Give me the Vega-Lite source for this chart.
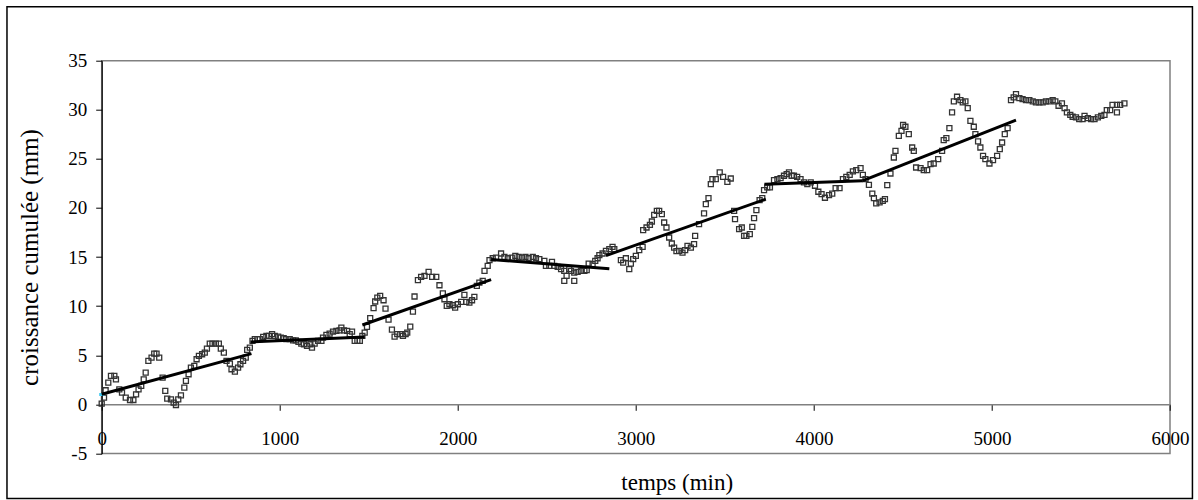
{
  "$schema": "https://vega.github.io/schema/vega-lite/v6.json",
  "width": 1068.3,
  "height": 392.7,
  "autosize": "none",
  "padding": {"left": 101.7, "top": 60.7, "right": 28, "bottom": 46.6},
  "background": "white",
  "config": {
    "font": "Liberation Serif",
    "view": {"stroke": "#808080", "strokeWidth": 1.5}
  },
  "datasets": {
    "pts": [
      {"t":0,"v":0.07},{"t":13,"v":0.68},{"t":22,"v":1.43},{"t":37,"v":2.2},{"t":52,"v":2.9},{"t":71,"v":2.9},{"t":80,"v":2.55},{"t":99,"v":1.53},{"t":114,"v":1.19},{"t":135,"v":0.68},{"t":159,"v":0.44},{"t":178,"v":0.44},{"t":193,"v":1.02},{"t":207,"v":1.53},{"t":222,"v":1.87},{"t":236,"v":2.55},{"t":247,"v":3.23},{"t":262,"v":4.42},{"t":280,"v":4.76},{"t":295,"v":5.16},{"t":308,"v":5.16},{"t":323,"v":4.76},{"t":342,"v":2.72},{"t":357,"v":1.36},{"t":368,"v":0.58},{"t":389,"v":0.51},{"t":404,"v":0.17},{"t":417,"v":-0.07},{"t":430,"v":0.51},{"t":445,"v":0.92},{"t":464,"v":1.7},{"t":473,"v":2.38},{"t":488,"v":3.06},{"t":501,"v":3.74},{"t":520,"v":3.91},{"t":533,"v":4.59},{"t":546,"v":4.93},{"t":564,"v":5.1},{"t":579,"v":5.27},{"t":591,"v":5.67},{"t":607,"v":6.18},{"t":622,"v":6.18},{"t":641,"v":6.18},{"t":658,"v":6.18},{"t":669,"v":5.67},{"t":686,"v":5.27},{"t":701,"v":4.42},{"t":720,"v":4.15},{"t":729,"v":3.57},{"t":748,"v":3.33},{"t":766,"v":3.74},{"t":779,"v":4.08},{"t":794,"v":4.42},{"t":809,"v":4.76},{"t":817,"v":5.54},{"t":832,"v":5.78},{"t":847,"v":6.46},{"t":860,"v":6.63},{"t":875,"v":6.63},{"t":888,"v":6.63},{"t":907,"v":6.86},{"t":925,"v":6.97},{"t":940,"v":6.97},{"t":957,"v":7.14},{"t":972,"v":6.97},{"t":991,"v":6.9},{"t":1006,"v":6.8},{"t":1022,"v":6.73},{"t":1037,"v":6.63},{"t":1056,"v":6.63},{"t":1075,"v":6.52},{"t":1090,"v":6.52},{"t":1105,"v":6.35},{"t":1121,"v":6.18},{"t":1136,"v":6.12},{"t":1153,"v":5.95},{"t":1172,"v":6.12},{"t":1181,"v":5.78},{"t":1196,"v":6.18},{"t":1215,"v":6.46},{"t":1234,"v":6.46},{"t":1243,"v":6.8},{"t":1262,"v":7.07},{"t":1280,"v":7.2},{"t":1299,"v":7.4},{"t":1318,"v":7.48},{"t":1336,"v":7.54},{"t":1346,"v":7.82},{"t":1361,"v":7.54},{"t":1378,"v":7.48},{"t":1393,"v":7.14},{"t":1406,"v":7.4},{"t":1421,"v":6.46},{"t":1436,"v":6.46},{"t":1450,"v":6.46},{"t":1464,"v":6.97},{"t":1477,"v":7.31},{"t":1490,"v":7.88},{"t":1508,"v":8.77},{"t":1527,"v":9.79},{"t":1536,"v":10.47},{"t":1548,"v":10.87},{"t":1564,"v":11.04},{"t":1583,"v":10.6},{"t":1594,"v":9.75},{"t":1611,"v":8.63},{"t":1630,"v":7.61},{"t":1645,"v":6.9},{"t":1660,"v":7.14},{"t":1677,"v":7.14},{"t":1692,"v":6.97},{"t":1707,"v":7.14},{"t":1716,"v":7.31},{"t":1733,"v":7.92},{"t":1748,"v":9.45},{"t":1757,"v":10.98},{"t":1776,"v":12.64},{"t":1794,"v":12.98},{"t":1813,"v":13.08},{"t":1836,"v":13.49},{"t":1856,"v":12.98},{"t":1879,"v":12.98},{"t":1897,"v":12.13},{"t":1916,"v":11.31},{"t":1925,"v":10.7},{"t":1938,"v":10.02},{"t":1953,"v":10.19},{"t":1972,"v":10.09},{"t":1985,"v":9.85},{"t":2000,"v":10.19},{"t":2019,"v":10.43},{"t":2037,"v":11.14},{"t":2047,"v":10.43},{"t":2065,"v":10.36},{"t":2080,"v":10.6},{"t":2093,"v":10.94},{"t":2107,"v":12.06},{"t":2121,"v":12.4},{"t":2140,"v":12.57},{"t":2150,"v":13.59},{"t":2168,"v":14.1},{"t":2178,"v":14.68},{"t":2196,"v":14.88},{"t":2215,"v":14.95},{"t":2243,"v":15.36},{"t":2262,"v":15.02},{"t":2281,"v":14.88},{"t":2303,"v":14.95},{"t":2323,"v":15.12},{"t":2342,"v":15.02},{"t":2361,"v":14.95},{"t":2380,"v":15.02},{"t":2398,"v":14.88},{"t":2421,"v":15.02},{"t":2439,"v":14.88},{"t":2458,"v":14.78},{"t":2486,"v":14.61},{"t":2495,"v":14.1},{"t":2514,"v":14.1},{"t":2529,"v":14.51},{"t":2542,"v":14.1},{"t":2561,"v":14.0},{"t":2580,"v":13.76},{"t":2598,"v":13.59},{"t":2598,"v":12.57},{"t":2611,"v":13.08},{"t":2626,"v":13.76},{"t":2636,"v":13.59},{"t":2654,"v":12.57},{"t":2654,"v":13.42},{"t":2673,"v":13.49},{"t":2692,"v":13.59},{"t":2711,"v":13.59},{"t":2724,"v":13.66},{"t":2735,"v":14.34},{"t":2757,"v":14.27},{"t":2772,"v":14.61},{"t":2785,"v":14.88},{"t":2795,"v":15.19},{"t":2813,"v":15.36},{"t":2832,"v":15.63},{"t":2851,"v":15.8},{"t":2869,"v":16.04},{"t":2879,"v":15.8},{"t":2916,"v":14.68},{"t":2929,"v":14.44},{"t":2944,"v":14.88},{"t":2963,"v":13.76},{"t":2972,"v":14.34},{"t":2985,"v":14.78},{"t":3000,"v":15.12},{"t":3019,"v":15.7},{"t":3038,"v":16.04},{"t":3041,"v":17.74},{"t":3060,"v":18.01},{"t":3079,"v":18.28},{"t":3090,"v":18.62},{"t":3103,"v":19.3},{"t":3118,"v":19.71},{"t":3131,"v":19.71},{"t":3146,"v":19.37},{"t":3159,"v":18.52},{"t":3172,"v":18.01},{"t":3187,"v":16.99},{"t":3202,"v":16.38},{"t":3215,"v":15.97},{"t":3228,"v":15.6},{"t":3243,"v":15.63},{"t":3262,"v":15.46},{"t":3277,"v":15.7},{"t":3290,"v":16.14},{"t":3309,"v":15.97},{"t":3327,"v":16.31},{"t":3333,"v":17.16},{"t":3355,"v":18.35},{"t":3383,"v":19.44},{"t":3393,"v":20.39},{"t":3408,"v":21.0},{"t":3421,"v":22.43},{"t":3430,"v":22.94},{"t":3449,"v":22.94},{"t":3471,"v":23.62},{"t":3490,"v":23.17},{"t":3514,"v":22.66},{"t":3533,"v":23.0},{"t":3552,"v":19.71},{"t":3557,"v":18.86},{"t":3580,"v":17.84},{"t":3595,"v":18.01},{"t":3608,"v":17.16},{"t":3621,"v":17.16},{"t":3640,"v":17.33},{"t":3654,"v":18.08},{"t":3664,"v":18.96},{"t":3677,"v":19.78},{"t":3695,"v":20.8},{"t":3710,"v":21.0},{"t":3720,"v":21.81},{"t":3738,"v":22.09},{"t":3753,"v":22.09},{"t":3776,"v":22.83},{"t":3795,"v":22.94},{"t":3813,"v":23.04},{"t":3832,"v":23.28},{"t":3847,"v":23.45},{"t":3860,"v":23.62},{"t":3875,"v":23.28},{"t":3888,"v":23.28},{"t":3906,"v":23.17},{"t":3925,"v":22.94},{"t":3944,"v":22.6},{"t":3963,"v":22.43},{"t":3982,"v":22.6},{"t":4006,"v":22.26},{"t":4025,"v":21.65},{"t":4043,"v":21.41},{"t":4062,"v":21.04},{"t":4085,"v":21.3},{"t":4103,"v":21.47},{"t":4122,"v":22.02},{"t":4144,"v":22.02},{"t":4163,"v":22.94},{"t":4182,"v":23.17},{"t":4201,"v":23.38},{"t":4219,"v":23.72},{"t":4238,"v":23.85},{"t":4262,"v":24.06},{"t":4275,"v":23.38},{"t":4290,"v":22.94},{"t":4309,"v":22.36},{"t":4328,"v":21.47},{"t":4337,"v":21.0},{"t":4350,"v":20.46},{"t":4369,"v":20.56},{"t":4387,"v":20.73},{"t":4399,"v":20.9},{"t":4412,"v":22.32},{"t":4430,"v":23.51},{"t":4449,"v":25.14},{"t":4458,"v":25.82},{"t":4477,"v":27.35},{"t":4492,"v":27.86},{"t":4501,"v":28.47},{"t":4514,"v":28.27},{"t":4533,"v":27.52},{"t":4552,"v":26.16},{"t":4561,"v":25.82},{"t":4574,"v":24.12},{"t":4599,"v":24.06},{"t":4617,"v":23.85},{"t":4636,"v":23.85},{"t":4655,"v":24.46},{"t":4673,"v":24.53},{"t":4698,"v":24.97},{"t":4720,"v":25.82},{"t":4729,"v":26.91},{"t":4744,"v":27.11},{"t":4761,"v":28.13},{"t":4776,"v":29.73},{"t":4786,"v":30.85},{"t":4804,"v":31.33},{"t":4823,"v":30.99},{"t":4836,"v":30.75},{"t":4851,"v":30.85},{"t":4864,"v":30.17},{"t":4879,"v":28.88},{"t":4898,"v":28.27},{"t":4907,"v":27.52},{"t":4922,"v":26.78},{"t":4935,"v":26.16},{"t":4950,"v":25.31},{"t":4963,"v":24.97},{"t":4986,"v":24.53},{"t":5006,"v":24.87},{"t":5029,"v":25.31},{"t":5044,"v":25.99},{"t":5057,"v":26.67},{"t":5072,"v":27.52},{"t":5088,"v":28.13},{"t":5107,"v":30.99},{"t":5122,"v":31.26},{"t":5135,"v":31.6},{"t":5154,"v":31.19},{"t":5172,"v":31.09},{"t":5191,"v":30.99},{"t":5210,"v":30.99},{"t":5229,"v":30.85},{"t":5247,"v":30.75},{"t":5266,"v":30.75},{"t":5285,"v":30.75},{"t":5303,"v":30.85},{"t":5322,"v":30.85},{"t":5341,"v":30.99},{"t":5356,"v":30.85},{"t":5374,"v":30.41},{"t":5393,"v":30.65},{"t":5408,"v":30.17},{"t":5421,"v":29.73},{"t":5440,"v":29.49},{"t":5453,"v":29.29},{"t":5472,"v":29.22},{"t":5490,"v":29.05},{"t":5509,"v":29.05},{"t":5520,"v":29.39},{"t":5539,"v":29.15},{"t":5557,"v":29.05},{"t":5576,"v":29.05},{"t":5595,"v":29.22},{"t":5614,"v":29.39},{"t":5632,"v":29.49},{"t":5645,"v":29.97},{"t":5664,"v":29.97},{"t":5677,"v":30.51},{"t":5702,"v":30.51},{"t":5702,"v":29.73},{"t":5720,"v":30.51},{"t":5744,"v":30.65}
    ],
    "fit": [
      {"seg":1,"t":0,"v":1.02},{"seg":1,"t":841,"v":5.16},
      {"seg":2,"t":836,"v":6.35},{"seg":2,"t":1477,"v":6.85},
      {"seg":3,"t":1464,"v":8.08},{"seg":3,"t":2187,"v":12.7},
      {"seg":4,"t":2187,"v":14.76},{"seg":4,"t":2851,"v":13.8},
      {"seg":5,"t":2832,"v":15.15},{"seg":5,"t":3730,"v":20.9},
      {"seg":6,"t":3722,"v":22.42},{"seg":6,"t":4275,"v":22.78},
      {"seg":7,"t":4275,"v":22.78},{"seg":7,"t":5135,"v":28.95}
    ],
    "start": [{"t":0,"v":1.0}]
  },
  "layer": [
    {
      "data": {"name": "pts"},
      "mark": {"type": "point", "shape": "square", "filled": false, "size": 25, "strokeWidth": 1.3, "color": "#333333", "opacity": 1},
      "encoding": {
        "x": {
          "field": "t", "type": "quantitative",
          "scale": {"domain": [0, 6000], "nice": false, "zero": false},
          "axis": {
            "title": "temps (min)",
            "values": [0, 1000, 2000, 3000, 4000, 5000, 6000],
            "labelExpr": "'' + datum.value",
            "grid": false,
            "offset": -49.1,
            "domainColor": "#808080", "domainWidth": 1.5,
            "tickColor": "#000000", "tickSize": 6, "tickWidth": 1,
            "labelFont": "Liberation Serif", "labelFontSize": 19, "labelColor": "#000000",
            "labelPadding": 19, "labelFlush": false,
            "titleFont": "Liberation Serif", "titleFontSize": 23, "titleFontWeight": "normal", "titleColor": "#000000",
            "titleX": 575, "titleY": 84.7, "titleBaseline": "alphabetic", "titleAlign": "center"
          }
        },
        "y": {
          "field": "v", "type": "quantitative",
          "scale": {"domain": [-5, 35], "nice": false, "zero": false},
          "axis": {
            "title": "croissance cumulée (mm)",
            "values": [-5, 0, 5, 10, 15, 20, 25, 30, 35],
            "labelExpr": "'' + datum.value",
            "grid": false,
            "domainColor": "#000000", "domainWidth": 1.2,
            "tickColor": "#000000", "tickSize": 6, "tickWidth": 1,
            "labelFont": "Liberation Serif", "labelFontSize": 19, "labelColor": "#000000",
            "labelPadding": 9,
            "titleFont": "Liberation Serif", "titleFontSize": 25, "titleFontWeight": "normal", "titleColor": "#000000",
            "titleX": -63.7, "titleY": 196.3, "titleBaseline": "alphabetic", "titleAlign": "center"
          }
        }
      }
    },
    {
      "data": {"name": "start"},
      "mark": {"type": "point", "shape": "M-1,-0.6L1,-0.6L1,0.6L-1,0.6Z", "filled": true, "size": 25, "color": "#3fc8f0", "opacity": 1},
      "encoding": {
        "x": {"field": "t", "type": "quantitative"},
        "y": {"field": "v", "type": "quantitative"}
      }
    },
    {
      "data": {"name": "fit"},
      "mark": {"type": "line", "color": "#000000", "strokeWidth": 3},
      "encoding": {
        "x": {"field": "t", "type": "quantitative"},
        "y": {"field": "v", "type": "quantitative"},
        "detail": {"field": "seg", "type": "nominal"}
      }
    },
    {
      "data": {"values": [{}]},
      "mark": {"type": "rect", "filled": false, "color": "#000000", "strokeWidth": 1.5},
      "encoding": {
        "x": {"datum": -532, "type": "quantitative"},
        "x2": {"datum": 6126},
        "y": {"datum": 40.5, "type": "quantitative"},
        "y2": {"datum": -9.6}
      }
    }
  ]
}
